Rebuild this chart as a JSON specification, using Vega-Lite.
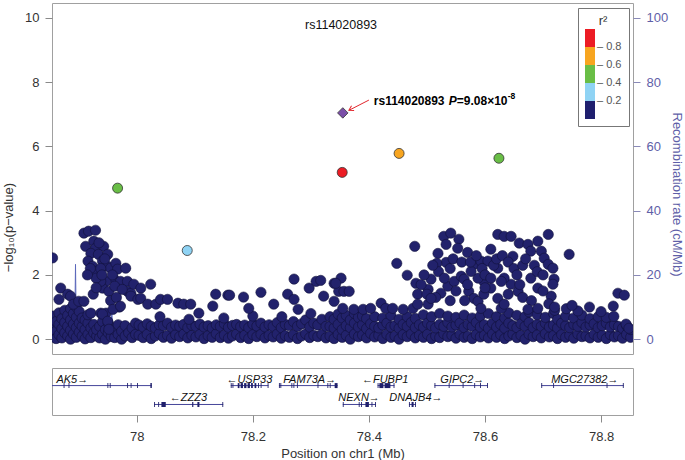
{
"$schema": "https://vega.github.io/schema/vega-lite/v6.json",
"padding": {"left": 2, "top": 2, "right": 3, "bottom": 2},
"config": {
  "font": "Liberation Sans",
  "view": {"stroke": "#a0a0a0", "strokeWidth": 1},
  "axis": {"grid": false, "domain": false, "tickColor": "#8a8a8a", "tickSize": 7, "labelFontSize": 13, "labelColor": "#333333", "titleFontSize": 13, "titleFontWeight": "normal", "titleColor": "#333333"},
  "concat": {"spacing": 12}
},
"datasets": {
  "recomb": [
    {"x":77.854,"rate":0.4},{"x":77.865,"rate":0.6},{"x":77.875,"rate":0.5},{"x":77.885,"rate":0.8},{"x":77.893,"rate":0.6},{"x":77.8945,"rate":23.3},{"x":77.896,"rate":0.7},{"x":77.905,"rate":0.5},{"x":77.92,"rate":0.4},{"x":77.935,"rate":0.6},{"x":77.95,"rate":0.5},{"x":77.956,"rate":0.9},{"x":77.957,"rate":9.6},{"x":77.9585,"rate":0.8},{"x":77.97,"rate":0.4},{"x":77.985,"rate":0.3},{"x":78.0,"rate":0.5},{"x":78.015,"rate":0.4},{"x":78.022,"rate":0.6},{"x":78.024,"rate":1.5},{"x":78.026,"rate":0.5},{"x":78.04,"rate":0.3},{"x":78.07,"rate":0.2},{"x":78.1,"rate":0.3},{"x":78.13,"rate":0.2},{"x":78.16,"rate":0.3},{"x":78.2,"rate":0.2},{"x":78.24,"rate":0.3},{"x":78.28,"rate":0.4},{"x":78.31,"rate":0.3},{"x":78.34,"rate":0.5},{"x":78.37,"rate":0.4},{"x":78.4,"rate":0.3},{"x":78.43,"rate":0.5},{"x":78.46,"rate":0.4},{"x":78.49,"rate":0.3},{"x":78.52,"rate":0.4},{"x":78.55,"rate":0.5},{"x":78.58,"rate":0.4},{"x":78.605,"rate":0.6},{"x":78.612,"rate":0.8},{"x":78.613,"rate":3.5},{"x":78.6145,"rate":0.7},{"x":78.64,"rate":0.4},{"x":78.68,"rate":0.3},{"x":78.72,"rate":0.5},{"x":78.76,"rate":0.4},{"x":78.8,"rate":0.3},{"x":78.83,"rate":0.4},{"x":78.855,"rate":0.3}
  ],
  "snps": [
    {"x":77.856,"y":0.08},{"x":77.856,"y":0.42},{"x":77.856,"y":0.72},
    {"x":77.861,"y":0.25},{"x":77.861,"y":0.55},{"x":77.861,"y":0.02},
    {"x":77.866,"y":0.14},{"x":77.866,"y":0.46},{"x":77.866,"y":0.82},
    {"x":77.871,"y":0.04},{"x":77.871,"y":0.33},{"x":77.871,"y":0.64},
    {"x":77.876,"y":0.2},{"x":77.876,"y":0.52},{"x":77.876,"y":0.9},
    {"x":77.881,"y":0.1},{"x":77.881,"y":0.4},{"x":77.881,"y":0.74},
    {"x":77.886,"y":0.0},{"x":77.886,"y":0.28},{"x":77.886,"y":0.6},{"x":77.886,"y":0.95},
    {"x":77.891,"y":0.16},{"x":77.891,"y":0.47},{"x":77.891,"y":0.8},
    {"x":77.896,"y":0.06},{"x":77.896,"y":0.36},{"x":77.896,"y":0.68},{"x":77.896,"y":1.0},
    {"x":77.901,"y":0.22},{"x":77.901,"y":0.5},{"x":77.901,"y":0.86},
    {"x":77.906,"y":0.1},{"x":77.906,"y":0.4},{"x":77.906,"y":0.66},
    {"x":77.911,"y":0.01},{"x":77.911,"y":0.3},{"x":77.911,"y":0.6},
    {"x":77.916,"y":0.15},{"x":77.916,"y":0.5},{"x":77.916,"y":0.76},
    {"x":77.921,"y":0.05},{"x":77.921,"y":0.35},{"x":77.926,"y":0.2},{"x":77.926,"y":0.46},
    {"x":77.931,"y":0.1},{"x":77.931,"y":0.3},{"x":77.936,"y":0.04},{"x":77.936,"y":0.4},
    {"x":77.941,"y":0.15},{"x":77.941,"y":0.55},{"x":77.946,"y":0.0},{"x":77.946,"y":0.3},
    {"x":77.951,"y":0.2},{"x":77.951,"y":0.5},{"x":77.956,"y":0.08},{"x":77.956,"y":0.36},
    {"x":77.962,"y":0.05},{"x":77.962,"y":0.3},{"x":77.968,"y":0.15},{"x":77.968,"y":0.45},{"x":77.974,"y":0.0},{"x":77.974,"y":0.25},{"x":77.98,"y":0.1},{"x":77.98,"y":0.42},{"x":77.986,"y":0.2},{"x":77.992,"y":0.05},{"x":77.992,"y":0.35},{"x":77.998,"y":0.15},{"x":77.998,"y":0.5},
    {"x":78.004,"y":0.12},{"x":78.004,"y":0.44},{"x":78.011,"y":0.05},{"x":78.011,"y":0.38},{"x":78.018,"y":0.15},{"x":78.018,"y":0.48},{"x":78.025,"y":0.02},{"x":78.025,"y":0.4},{"x":78.032,"y":0.1},{"x":78.032,"y":0.35},{"x":78.039,"y":0.18},{"x":78.039,"y":0.45},{"x":78.046,"y":0.06},{"x":78.046,"y":0.42},{"x":78.053,"y":0.12},{"x":78.053,"y":0.5},{"x":78.06,"y":0.03},{"x":78.06,"y":0.37},{"x":78.067,"y":0.14},{"x":78.067,"y":0.44},{"x":78.074,"y":0.08},{"x":78.074,"y":0.4},{"x":78.081,"y":0.16},{"x":78.081,"y":0.46},{"x":78.088,"y":0.04},{"x":78.088,"y":0.36},{"x":78.095,"y":0.12},{"x":78.095,"y":0.43},{"x":78.102,"y":0.07},{"x":78.102,"y":0.4},{"x":78.109,"y":0.15},{"x":78.109,"y":0.47},{"x":78.116,"y":0.02},{"x":78.116,"y":0.38},{"x":78.123,"y":0.11},{"x":78.123,"y":0.42},{"x":78.13,"y":0.06},{"x":78.13,"y":0.35},{"x":78.137,"y":0.17},{"x":78.137,"y":0.45},{"x":78.144,"y":0.05},{"x":78.144,"y":0.4},{"x":78.151,"y":0.13},{"x":78.151,"y":0.48},{"x":78.158,"y":0.03},{"x":78.158,"y":0.37},{"x":78.165,"y":0.1},{"x":78.165,"y":0.43},{"x":78.172,"y":0.16},{"x":78.172,"y":0.46},{"x":78.179,"y":0.05},{"x":78.179,"y":0.39},{"x":78.186,"y":0.12},{"x":78.186,"y":0.44},{"x":78.193,"y":0.02},{"x":78.193,"y":0.36},{"x":78.2,"y":0.14},{"x":78.2,"y":0.47},{"x":78.207,"y":0.08},{"x":78.207,"y":0.41},{"x":78.214,"y":0.15},{"x":78.214,"y":0.5},{"x":78.221,"y":0.04},{"x":78.221,"y":0.38},{"x":78.228,"y":0.12},{"x":78.228,"y":0.45},{"x":78.235,"y":0.07},{"x":78.235,"y":0.4},{"x":78.242,"y":0.16},{"x":78.242,"y":0.52},{"x":78.249,"y":0.03},{"x":78.249,"y":0.36},{"x":78.256,"y":0.11},{"x":78.256,"y":0.46},{"x":78.263,"y":0.06},{"x":78.263,"y":0.42},{"x":78.27,"y":0.14},{"x":78.27,"y":0.55},{"x":78.277,"y":0.02},{"x":78.277,"y":0.4},{"x":78.284,"y":0.1},{"x":78.284,"y":0.48},{"x":78.291,"y":0.17},{"x":78.291,"y":0.6},{"x":78.298,"y":0.05},{"x":78.298,"y":0.38},{"x":78.305,"y":0.12},{"x":78.305,"y":0.5},{"x":78.312,"y":0.08},{"x":78.312,"y":0.44},{"x":78.319,"y":0.15},{"x":78.319,"y":0.62},{"x":78.326,"y":0.04},{"x":78.326,"y":0.4},
    {"x":78.04,"y":0.7},{"x":78.09,"y":0.62},{"x":78.15,"y":0.66},{"x":78.2,"y":0.72},{"x":78.25,"y":0.7},{"x":78.3,"y":0.8},
    {"x":78.333,"y":0.1},{"x":78.333,"y":0.4},{"x":78.333,"y":0.7},{"x":78.34,"y":0.02},{"x":78.34,"y":0.35},{"x":78.34,"y":0.62},{"x":78.347,"y":0.15},{"x":78.347,"y":0.46},{"x":78.347,"y":0.78},{"x":78.354,"y":0.06},{"x":78.354,"y":0.3},{"x":78.354,"y":0.66},{"x":78.361,"y":0.12},{"x":78.361,"y":0.42},{"x":78.361,"y":0.74},{"x":78.368,"y":0.0},{"x":78.368,"y":0.36},{"x":78.368,"y":0.6},{"x":78.375,"y":0.16},{"x":78.375,"y":0.5},{"x":78.375,"y":0.8},{"x":78.382,"y":0.08},{"x":78.382,"y":0.38},{"x":78.382,"y":0.68},{"x":78.389,"y":0.13},{"x":78.389,"y":0.45},{"x":78.389,"y":0.72},{"x":78.396,"y":0.04},{"x":78.396,"y":0.33},{"x":78.396,"y":0.64},{"x":78.403,"y":0.18},{"x":78.403,"y":0.48},{"x":78.41,"y":0.07},{"x":78.41,"y":0.4},{"x":78.41,"y":0.7},{"x":78.417,"y":0.12},{"x":78.417,"y":0.35},{"x":78.424,"y":0.02},{"x":78.424,"y":0.44},{"x":78.424,"y":0.66},{"x":78.431,"y":0.15},{"x":78.431,"y":0.5},{"x":78.438,"y":0.06},{"x":78.438,"y":0.38},{"x":78.438,"y":0.74},{"x":78.445,"y":0.1},{"x":78.445,"y":0.42},{"x":78.452,"y":0.0},{"x":78.452,"y":0.34},{"x":78.452,"y":0.62},{"x":78.459,"y":0.14},{"x":78.459,"y":0.46},{"x":78.466,"y":0.08},{"x":78.466,"y":0.4},{"x":78.466,"y":0.7},{"x":78.473,"y":0.16},{"x":78.473,"y":0.52},{"x":78.48,"y":0.04},{"x":78.48,"y":0.36},{"x":78.48,"y":0.65},{"x":78.487,"y":0.12},{"x":78.487,"y":0.45},{"x":78.494,"y":0.06},{"x":78.494,"y":0.38},{"x":78.494,"y":0.76},{"x":78.501,"y":0.15},{"x":78.501,"y":0.5},{"x":78.508,"y":0.02},{"x":78.508,"y":0.42},{"x":78.508,"y":0.7},{"x":78.515,"y":0.1},{"x":78.515,"y":0.35},{"x":78.522,"y":0.05},{"x":78.522,"y":0.46},{"x":78.522,"y":0.8},{"x":78.529,"y":0.17},{"x":78.529,"y":0.4},{"x":78.536,"y":0.08},{"x":78.536,"y":0.52},{"x":78.536,"y":0.72},{"x":78.543,"y":0.12},{"x":78.543,"y":0.38},{"x":78.55,"y":0.03},{"x":78.55,"y":0.44},{"x":78.55,"y":0.68},{"x":78.557,"y":0.15},{"x":78.557,"y":0.5},{"x":78.564,"y":0.06},{"x":78.564,"y":0.36},{"x":78.564,"y":0.75},{"x":78.571,"y":0.1},{"x":78.571,"y":0.46},{"x":78.578,"y":0.02},{"x":78.578,"y":0.4},{"x":78.578,"y":0.66},{"x":78.585,"y":0.14},{"x":78.585,"y":0.52},{"x":78.592,"y":0.07},{"x":78.592,"y":0.38},{"x":78.592,"y":0.72},{"x":78.599,"y":0.12},{"x":78.599,"y":0.45},{"x":78.606,"y":0.04},{"x":78.606,"y":0.34},{"x":78.606,"y":0.8},{"x":78.613,"y":0.16},{"x":78.613,"y":0.5},
    {"x":78.62,"y":0.06},{"x":78.62,"y":0.38},{"x":78.62,"y":0.7},{"x":78.627,"y":0.14},{"x":78.627,"y":0.46},{"x":78.634,"y":0.02},{"x":78.634,"y":0.34},{"x":78.634,"y":0.66},{"x":78.641,"y":0.1},{"x":78.641,"y":0.5},{"x":78.641,"y":0.82},{"x":78.648,"y":0.16},{"x":78.648,"y":0.42},{"x":78.655,"y":0.05},{"x":78.655,"y":0.36},{"x":78.655,"y":0.74},{"x":78.662,"y":0.12},{"x":78.662,"y":0.48},{"x":78.669,"y":0.0},{"x":78.669,"y":0.4},{"x":78.669,"y":0.7},{"x":78.676,"y":0.15},{"x":78.676,"y":0.52},{"x":78.676,"y":0.85},{"x":78.683,"y":0.08},{"x":78.683,"y":0.36},{"x":78.69,"y":0.13},{"x":78.69,"y":0.46},{"x":78.69,"y":0.76},{"x":78.697,"y":0.04},{"x":78.697,"y":0.4},{"x":78.704,"y":0.17},{"x":78.704,"y":0.5},{"x":78.704,"y":0.68},{"x":78.711,"y":0.07},{"x":78.711,"y":0.38},{"x":78.718,"y":0.11},{"x":78.718,"y":0.44},{"x":78.718,"y":0.8},{"x":78.725,"y":0.02},{"x":78.725,"y":0.35},{"x":78.725,"y":0.62},{"x":78.732,"y":0.14},{"x":78.732,"y":0.5},{"x":78.739,"y":0.06},{"x":78.739,"y":0.42},{"x":78.739,"y":0.72},{"x":78.746,"y":0.12},{"x":78.746,"y":0.36},{"x":78.753,"y":0.03},{"x":78.753,"y":0.46},{"x":78.753,"y":0.66},{"x":78.76,"y":0.16},{"x":78.76,"y":0.4},{"x":78.767,"y":0.08},{"x":78.767,"y":0.52},{"x":78.767,"y":0.75},{"x":78.774,"y":0.1},{"x":78.774,"y":0.38},{"x":78.781,"y":0.04},{"x":78.781,"y":0.44},{"x":78.781,"y":0.64},{"x":78.788,"y":0.15},{"x":78.788,"y":0.48},{"x":78.795,"y":0.06},{"x":78.795,"y":0.36},{"x":78.795,"y":0.7},{"x":78.802,"y":0.12},{"x":78.802,"y":0.42},{"x":78.809,"y":0.02},{"x":78.809,"y":0.5},{"x":78.809,"y":0.68},{"x":78.816,"y":0.14},{"x":78.816,"y":0.38},{"x":78.823,"y":0.07},{"x":78.823,"y":0.45},{"x":78.83,"y":0.11},{"x":78.83,"y":0.4},{"x":78.837,"y":0.03},{"x":78.837,"y":0.34},{"x":78.844,"y":0.15},{"x":78.844,"y":0.42},{"x":78.851,"y":0.06},{"x":78.851,"y":0.3},
    {"x":78.72,"y":0.9},{"x":78.74,"y":0.95},{"x":78.76,"y":0.88},{"x":78.78,"y":1.0},{"x":78.8,"y":0.86},{"x":78.75,"y":1.05},
    {"x":77.855,"y":2.53},{"x":77.869,"y":1.59},{"x":77.866,"y":1.24},{"x":77.881,"y":1.4},{"x":77.886,"y":1.34},{"x":77.891,"y":1.09},{"x":77.9,"y":1.18},{"x":77.909,"y":1.18},
    {"x":77.909,"y":3.3},{"x":77.917,"y":3.36},{"x":77.929,"y":3.39},{"x":77.912,"y":2.89},{"x":77.926,"y":3.05},{"x":77.929,"y":2.83},{"x":77.943,"y":2.89},{"x":77.921,"y":2.67},{"x":77.934,"y":2.64},{"x":77.95,"y":2.64},{"x":77.916,"y":2.43},{"x":77.924,"y":2.27},{"x":77.929,"y":2.11},{"x":77.941,"y":2.43},{"x":77.95,"y":2.27},{"x":77.955,"y":2.21},{"x":77.964,"y":2.36},{"x":77.967,"y":2.18},{"x":77.981,"y":2.21},{"x":77.96,"y":1.9},{"x":77.972,"y":1.8},{"x":77.984,"y":1.8},{"x":77.947,"y":1.8},{"x":77.941,"y":1.59},{"x":77.938,"y":1.8},{"x":77.952,"y":1.49},{"x":77.984,"y":1.49},{"x":77.99,"y":1.43},{"x":77.995,"y":1.71},{"x":78.007,"y":1.59},{"x":78.024,"y":1.71},
    {"x":77.935,"y":3.0},{"x":77.945,"y":2.5},{"x":77.938,"y":2.2},{"x":77.958,"y":2.0},{"x":77.962,"y":1.65},{"x":77.975,"y":1.55},{"x":77.955,"y":1.2},{"x":77.965,"y":1.3},{"x":77.97,"y":1.0},{"x":77.93,"y":1.9},{"x":77.94,"y":2.0},{"x":77.92,"y":2.2},{"x":77.915,"y":2.0},{"x":77.925,"y":1.4},{"x":77.93,"y":1.6},
    {"x":77.921,"y":0.81},{"x":77.938,"y":0.81},{"x":77.947,"y":0.81},{"x":77.959,"y":0.93},{"x":77.972,"y":1.03},{"x":77.941,"y":0.78},{"x":77.95,"y":0.56},{"x":77.952,"y":0.31},
    {"x":77.99,"y":1.34},{"x":78.002,"y":1.24},{"x":78.007,"y":1.27},{"x":78.019,"y":1.09},{"x":78.033,"y":1.09},{"x":78.041,"y":1.24},{"x":78.053,"y":1.24},{"x":78.071,"y":1.12},{"x":78.081,"y":1.09},{"x":78.093,"y":1.09},{"x":78.107,"y":0.81},{"x":78.131,"y":1.03},{"x":78.136,"y":1.4},{"x":78.157,"y":1.37},{"x":78.16,"y":1.37},{"x":78.184,"y":1.31},{"x":78.193,"y":0.96},{"x":78.214,"y":1.46},{"x":78.236,"y":1.09},{"x":78.26,"y":1.4},{"x":78.271,"y":1.24},{"x":78.278,"y":0.93},{"x":78.271,"y":1.87},{"x":78.297,"y":1.59},{"x":78.309,"y":1.8},{"x":78.317,"y":1.83},{"x":78.322,"y":1.34},{"x":78.34,"y":1.74},{"x":78.348,"y":1.49},
    {"x":78.529,"y":3.2},{"x":78.541,"y":3.3},{"x":78.555,"y":3.11},{"x":78.533,"y":2.95},{"x":78.553,"y":2.83},{"x":78.519,"y":2.67},{"x":78.533,"y":2.39},{"x":78.517,"y":2.36},{"x":78.479,"y":2.89},{"x":78.448,"y":2.36},{"x":78.466,"y":1.99},{"x":78.481,"y":1.74},{"x":78.507,"y":1.87},{"x":78.502,"y":1.55},{"x":78.484,"y":1.4},{"x":78.524,"y":1.43},{"x":78.536,"y":1.65},{"x":78.547,"y":1.8},{"x":78.559,"y":1.96},{"x":78.564,"y":1.87},{"x":78.581,"y":2.33},{"x":78.593,"y":2.43},{"x":78.605,"y":2.43},{"x":78.61,"y":2.8},{"x":78.622,"y":3.26},{"x":78.633,"y":3.2},{"x":78.645,"y":3.2},{"x":78.648,"y":2.58},{"x":78.659,"y":2.99},{"x":78.674,"y":2.95},{"x":78.679,"y":2.74},{"x":78.691,"y":3.05},{"x":78.709,"y":3.26},{"x":78.745,"y":2.64},{"x":78.697,"y":2.74},{"x":78.702,"y":2.52},{"x":78.709,"y":2.33},{"x":78.717,"y":2.21},{"x":78.719,"y":1.87},{"x":78.717,"y":1.71},{"x":78.714,"y":1.34},{"x":78.691,"y":1.59},{"x":78.679,"y":1.9},{"x":78.657,"y":1.49},{"x":78.645,"y":1.71},{"x":78.633,"y":1.9},{"x":78.622,"y":2.21},{"x":78.628,"y":1.8},{"x":78.61,"y":1.59},{"x":78.598,"y":1.8},{"x":78.588,"y":1.9},{"x":78.576,"y":2.11},{"x":78.572,"y":1.49},{"x":78.581,"y":1.27},{"x":78.588,"y":1.18},{"x":78.598,"y":1.4},{"x":78.622,"y":1.27},{"x":78.628,"y":0.96},{"x":78.633,"y":1.09},{"x":78.593,"y":0.96},
    {"x":78.52,"y":2.1},{"x":78.53,"y":1.9},{"x":78.54,"y":2.2},{"x":78.545,"y":2.5},{"x":78.56,"y":2.4},{"x":78.57,"y":2.7},{"x":78.575,"y":2.4},{"x":78.585,"y":2.6},{"x":78.595,"y":2.2},{"x":78.6,"y":2.0},{"x":78.615,"y":2.3},{"x":78.62,"y":2.5},{"x":78.63,"y":2.6},{"x":78.64,"y":2.4},{"x":78.65,"y":2.2},{"x":78.655,"y":2.0},{"x":78.665,"y":2.3},{"x":78.67,"y":2.5},{"x":78.685,"y":2.3},{"x":78.69,"y":2.1},{"x":78.7,"y":2.0},{"x":78.66,"y":1.7},{"x":78.665,"y":1.3},{"x":78.64,"y":1.4},{"x":78.61,"y":1.9},{"x":78.6,"y":1.6},{"x":78.57,"y":1.7},{"x":78.55,"y":1.5},{"x":78.54,"y":1.2},{"x":78.515,"y":1.3},{"x":78.5,"y":1.4},{"x":78.49,"y":1.7},{"x":78.495,"y":2.0},{"x":78.51,"y":2.3},{"x":78.565,"y":1.2},{"x":78.68,"y":1.2},{"x":78.7,"y":1.5},{"x":78.71,"y":1.1},{"x":78.72,"y":1.0},
    {"x":78.352,"y":1.9},{"x":78.343,"y":1.74},{"x":78.357,"y":1.49},{"x":78.366,"y":1.49},{"x":78.34,"y":1.18},{"x":78.355,"y":0.96},{"x":78.374,"y":0.93},{"x":78.39,"y":0.93},{"x":78.403,"y":0.96},{"x":78.421,"y":1.12},{"x":78.429,"y":0.96},{"x":78.441,"y":0.96},{"x":78.459,"y":0.93},{"x":78.476,"y":0.96},{"x":78.484,"y":1.09},{"x":78.502,"y":1.09},{"x":78.507,"y":1.27},{"x":78.674,"y":0.93},{"x":78.691,"y":0.96},{"x":78.829,"y":1.43},{"x":78.84,"y":1.37},{"x":78.821,"y":1.03},{"x":78.822,"y":0.71},{"x":78.843,"y":0.47},{"x":78.848,"y":0.34}
  ],
  "ld": [
    {"x":78.354,"y":5.19,"r2":0.85},{"x":78.452,"y":5.78,"r2":0.7},{"x":78.624,"y":5.63,"r2":0.5},{"x":77.967,"y":4.7,"r2":0.5},{"x":78.087,"y":2.76,"r2":0.3}
  ],
  "lead": [{"x":78.355,"y":7.04,"snp":"rs114020893"}],
  "arrow": [{"x":78.4,"y":7.44,"x2":78.3655,"y2":7.12}],
  "heading": [{"x":78.352,"y":9.77,"t":"rs114020893"}],
  "genes": [
    {"gene":"AK5","start":77.8,"end":78.026,"row":1,"label":"AK5→","lx":77.889},
    {"gene":"USP33","start":78.162,"end":78.227,"row":1,"label":"←USP33","lx":78.194},
    {"gene":"FAM73A","start":78.245,"end":78.346,"row":1,"label":"FAM73A→","lx":78.298},
    {"gene":"FUBP1","start":78.415,"end":78.444,"row":1,"label":"←FUBP1","lx":78.428},
    {"gene":"GIPC2","start":78.513,"end":78.605,"row":1,"label":"GIPC2→","lx":78.561},
    {"gene":"MGC27382","start":78.697,"end":78.839,"row":1,"label":"MGC27382→","lx":78.772},
    {"gene":"ZZZ3","start":78.03,"end":78.149,"row":2,"label":"←ZZZ3","lx":78.089},
    {"gene":"NEXN","start":78.355,"end":78.412,"row":2,"label":"NEXN→","lx":78.383},
    {"gene":"DNAJB4","start":78.469,"end":78.481,"row":2,"label":"DNAJB4→","lx":78.481}
  ],
  "exons": [
    {"s":77.874,"e":77.8755,"row":1},{"s":77.8825,"e":77.884,"row":1},{"s":77.9495,"e":77.951,"row":1},{"s":77.9535,"e":77.955,"row":1},{"s":77.9835,"e":77.985,"row":1},{"s":77.9895,"e":77.991,"row":1},{"s":78.0005,"e":78.002,"row":1},{"s":78.0235,"e":78.026,"row":1},
    {"s":78.162,"e":78.1635,"row":1},{"s":78.165,"e":78.1665,"row":1},{"s":78.174,"e":78.177,"row":1},{"s":78.179,"e":78.183,"row":1},{"s":78.185,"e":78.189,"row":1},{"s":78.191,"e":78.195,"row":1},{"s":78.197,"e":78.2,"row":1},{"s":78.203,"e":78.206,"row":1},{"s":78.209,"e":78.2105,"row":1},{"s":78.2135,"e":78.215,"row":1},{"s":78.2255,"e":78.227,"row":1},
    {"s":78.245,"e":78.2465,"row":1},{"s":78.2475,"e":78.249,"row":1},{"s":78.2665,"e":78.268,"row":1},{"s":78.27,"e":78.2715,"row":1},{"s":78.276,"e":78.2775,"row":1},{"s":78.3115,"e":78.313,"row":1},{"s":78.3285,"e":78.33,"row":1},{"s":78.3325,"e":78.334,"row":1},{"s":78.341,"e":78.346,"row":1},
    {"s":78.415,"e":78.4165,"row":1},{"s":78.418,"e":78.425,"row":1},{"s":78.427,"e":78.437,"row":1},{"s":78.4425,"e":78.444,"row":1},
    {"s":78.513,"e":78.5145,"row":1},{"s":78.5375,"e":78.539,"row":1},{"s":78.5615,"e":78.563,"row":1},{"s":78.5815,"e":78.583,"row":1},{"s":78.5915,"e":78.593,"row":1},{"s":78.6035,"e":78.605,"row":1},
    {"s":78.697,"e":78.6985,"row":1},{"s":78.7175,"e":78.719,"row":1},{"s":78.8095,"e":78.811,"row":1},{"s":78.8375,"e":78.839,"row":1},
    {"s":78.03,"e":78.0315,"row":2},{"s":78.037,"e":78.0385,"row":2},{"s":78.0425,"e":78.05,"row":2},{"s":78.0955,"e":78.0975,"row":2},{"s":78.1045,"e":78.108,"row":2},{"s":78.1475,"e":78.149,"row":2},
    {"s":78.355,"e":78.3565,"row":2},{"s":78.3825,"e":78.384,"row":2},{"s":78.3865,"e":78.388,"row":2},{"s":78.394,"e":78.4,"row":2},{"s":78.4045,"e":78.406,"row":2},{"s":78.4105,"e":78.412,"row":2},
    {"s":78.469,"e":78.4705,"row":2},{"s":78.4735,"e":78.477,"row":2},{"s":78.4795,"e":78.481,"row":2}
  ]
},
"vconcat": [
  {
    "width": 581, "height": 351,
    "layer": [
      {
        "data": {"name": "recomb"},
        "mark": {"type": "line", "color": "#5b68bb", "strokeWidth": 1, "clip": true},
        "encoding": {
          "x": {"field": "x", "type": "quantitative", "scale": {"domain": [77.854, 78.855], "nice": false, "zero": false}, "axis": null},
          "y": {"field": "rate", "type": "quantitative", "scale": {"domain": [-4.6, 104.6], "nice": false, "zero": false},
                "axis": {"orient": "right", "values": [0, 20, 40, 60, 80, 100], "title": "Recombination rate (cM/Mb)", "labelColor": "#5f5fa8", "titleColor": "#5f5fa8", "tickColor": "#8a8ab8", "labelPadding": 6, "titlePadding": 2, "titleY": 191}}
        }
      },
      {
        "layer": [
          {
            "data": {"name": "snps"},
            "mark": {"type": "point", "filled": true, "shape": "circle", "size": 105, "fill": "#22226c", "stroke": "#10103a", "strokeWidth": 0.6, "opacity": 1, "clip": true},
            "encoding": {
              "x": {"field": "x", "type": "quantitative", "scale": {"domain": [77.854, 78.855], "nice": false, "zero": false}, "axis": null},
              "y": {"field": "y", "type": "quantitative", "scale": {"domain": [-0.46, 10.46], "nice": false, "zero": false},
                    "axis": {"orient": "left", "values": [0, 2, 4, 6, 8, 10], "title": "−log₁₀(p−value)", "labelPadding": 6, "titlePadding": 9, "titleY": 224}}
            }
          },
          {
            "data": {"name": "ld"},
            "mark": {"type": "point", "filled": true, "shape": "circle", "size": 100, "stroke": "#333333", "strokeWidth": 0.8, "opacity": 1},
            "encoding": {
              "x": {"field": "x", "type": "quantitative", "scale": {"domain": [77.854, 78.855], "nice": false, "zero": false}, "axis": null},
              "y": {"field": "y", "type": "quantitative", "scale": {"domain": [-0.46, 10.46], "nice": false, "zero": false}},
              "color": {"field": "r2", "type": "quantitative",
                "scale": {"type": "threshold", "domain": [0.2, 0.4, 0.6, 0.8], "range": ["#1f1f6e", "#8fd3f4", "#69be46", "#f7a520", "#ec1c24"]},
                "legend": {"title": "r²", "orient": "none", "legendX": 526, "legendY": 5, "direction": "vertical", "type": "gradient", "gradientLength": 90, "gradientThickness": 10, "gradientStrokeWidth": 0, "labelFontSize": 11, "labelColor": "#555555", "labelExpr": "datum.label ? '– ' + datum.label : ''", "labelOffset": 2, "titleFontSize": 13, "titleFontWeight": "normal", "titleColor": "#333333", "titleAnchor": "middle", "titlePadding": 1, "padding": 7, "strokeColor": "#777777", "fillColor": "white"}}
            }
          },
          {
            "data": {"name": "lead"},
            "mark": {"type": "point", "filled": true, "shape": "diamond", "size": 110, "fill": "#7b4fa8", "stroke": "#333333", "strokeWidth": 0.8, "opacity": 1},
            "encoding": {
              "x": {"field": "x", "type": "quantitative", "scale": {"domain": [77.854, 78.855], "nice": false, "zero": false}, "axis": null},
              "y": {"field": "y", "type": "quantitative", "scale": {"domain": [-0.46, 10.46], "nice": false, "zero": false}}
            }
          },
          {
            "data": {"name": "arrow"},
            "mark": {"type": "rule", "color": "#e2262c", "strokeWidth": 1},
            "encoding": {
              "x": {"field": "x", "type": "quantitative", "scale": {"domain": [77.854, 78.855], "nice": false, "zero": false}, "axis": null},
              "y": {"field": "y", "type": "quantitative", "scale": {"domain": [-0.46, 10.46], "nice": false, "zero": false}},
              "x2": {"field": "x2"},
              "y2": {"field": "y2"}
            }
          },
          {
            "data": {"name": "arrow"},
            "mark": {"type": "point", "filled": false, "shape": "M-0.6,1L0,0L0.6,1", "size": 81, "angle": 241, "stroke": "#e2262c", "strokeWidth": 1, "opacity": 1},
            "encoding": {
              "x": {"field": "x2", "type": "quantitative", "scale": {"domain": [77.854, 78.855], "nice": false, "zero": false}, "axis": null},
              "y": {"field": "y2", "type": "quantitative", "scale": {"domain": [-0.46, 10.46], "nice": false, "zero": false}}
            }
          },
          {
            "data": {"name": "lead"},
            "mark": {"type": "text", "align": "left", "baseline": "middle", "dx": 31, "dy": -12, "fontSize": 12, "fontWeight": "bold", "color": "#000000"},
            "encoding": {
              "x": {"field": "x", "type": "quantitative", "scale": {"domain": [77.854, 78.855], "nice": false, "zero": false}, "axis": null},
              "y": {"field": "y", "type": "quantitative", "scale": {"domain": [-0.46, 10.46], "nice": false, "zero": false}},
              "text": {"field": "snp"}
            }
          },
          {
            "data": {"name": "lead"},
            "mark": {"type": "text", "align": "left", "baseline": "middle", "dx": 106, "dy": -12, "fontSize": 12, "fontWeight": "bold", "fontStyle": "italic", "color": "#000000", "text": "P"},
            "encoding": {
              "x": {"field": "x", "type": "quantitative", "scale": {"domain": [77.854, 78.855], "nice": false, "zero": false}, "axis": null},
              "y": {"field": "y", "type": "quantitative", "scale": {"domain": [-0.46, 10.46], "nice": false, "zero": false}}
            }
          },
          {
            "data": {"name": "lead"},
            "mark": {"type": "text", "align": "left", "baseline": "middle", "dx": 114, "dy": -12, "fontSize": 12, "fontWeight": "bold", "color": "#000000", "text": "=9.08×10"},
            "encoding": {
              "x": {"field": "x", "type": "quantitative", "scale": {"domain": [77.854, 78.855], "nice": false, "zero": false}, "axis": null},
              "y": {"field": "y", "type": "quantitative", "scale": {"domain": [-0.46, 10.46], "nice": false, "zero": false}}
            }
          },
          {
            "data": {"name": "lead"},
            "mark": {"type": "text", "align": "left", "baseline": "middle", "dx": 165, "dy": -17, "fontSize": 8.5, "fontWeight": "bold", "color": "#000000", "text": "-8"},
            "encoding": {
              "x": {"field": "x", "type": "quantitative", "scale": {"domain": [77.854, 78.855], "nice": false, "zero": false}, "axis": null},
              "y": {"field": "y", "type": "quantitative", "scale": {"domain": [-0.46, 10.46], "nice": false, "zero": false}}
            }
          },
          {
            "data": {"name": "heading"},
            "mark": {"type": "text", "align": "center", "baseline": "middle", "fontSize": 12.5, "color": "#111111"},
            "encoding": {
              "x": {"field": "x", "type": "quantitative", "scale": {"domain": [77.854, 78.855], "nice": false, "zero": false}, "axis": null},
              "y": {"field": "y", "type": "quantitative", "scale": {"domain": [-0.46, 10.46], "nice": false, "zero": false}},
              "text": {"field": "t"}
            }
          }
        ]
      }
    ],
    "resolve": {"scale": {"y": "independent"}, "axis": {"y": "independent"}}
  },
  {
    "width": 581, "height": 47,
    "layer": [
      {
        "data": {"name": "genes"},
        "mark": {"type": "rule", "color": "#45459a", "strokeWidth": 1, "clip": true},
        "encoding": {
          "x": {"field": "start", "type": "quantitative", "scale": {"domain": [77.854, 78.855], "nice": false, "zero": false},
                "axis": {"values": [78, 78.2, 78.4, 78.6, 78.8], "format": ".1~f", "title": "Position on chr1 (Mb)", "labelPadding": 8, "titlePadding": 4, "tickSize": 7}},
          "x2": {"field": "end"},
          "y": {"field": "row", "type": "quantitative", "scale": {"domain": [0.334, 2.292], "reverse": true, "nice": false, "zero": false}, "axis": null}
        }
      },
      {
        "data": {"name": "exons"},
        "mark": {"type": "bar", "color": "#1f1f6b", "height": 5, "clip": true},
        "encoding": {
          "x": {"field": "s", "type": "quantitative", "scale": {"domain": [77.854, 78.855], "nice": false, "zero": false}},
          "x2": {"field": "e"},
          "y": {"field": "row", "type": "quantitative", "scale": {"domain": [0.334, 2.292], "reverse": true, "nice": false, "zero": false}, "axis": null}
        }
      },
      {
        "data": {"name": "genes"},
        "mark": {"type": "text", "fontStyle": "italic", "fontSize": 11, "dy": -3, "baseline": "alphabetic", "align": "center", "color": "#111111"},
        "encoding": {
          "x": {"field": "lx", "type": "quantitative", "scale": {"domain": [77.854, 78.855], "nice": false, "zero": false}},
          "y": {"field": "row", "type": "quantitative", "scale": {"domain": [0.334, 2.292], "reverse": true, "nice": false, "zero": false}, "axis": null},
          "text": {"field": "label"}
        }
      }
    ]
  }
]
}
